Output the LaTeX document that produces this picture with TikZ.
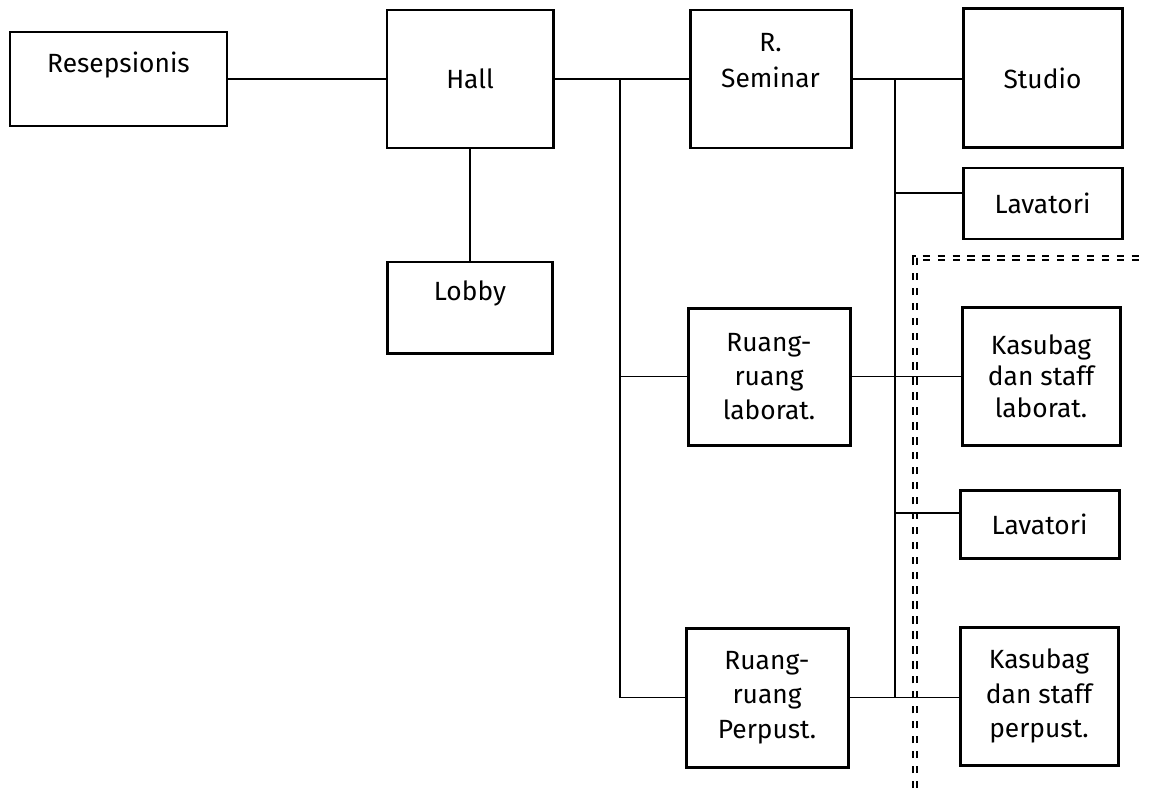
\documentclass[tikz,border=0pt]{standalone}
\usepackage{fontspec}
\setmainfont{Fira Sans}
\newlength\pxu
\setlength\pxu{0.02cm}
\begin{document}
\begin{tikzpicture}[x=0.02cm,y=-0.02cm,
  font=\fontsize{15}{19.5}\selectfont,
  room/.style n args={2}{draw=black, line width=1.7pt, inner sep=0pt, align=center,
    minimum width=#1\pxu, minimum height=#2\pxu},
  link/.style={draw=black, line width=1.1pt},
  sep/.style={draw=black, double, double distance=1.1pt, line width=1.4pt,
    dash pattern=on 4.2pt off 4.3pt},
  txt/.style={align=center}]
\useasboundingbox (0,0) rectangle (1152,788);

% rooms
\node[room={217}{94}] (res) at (118.5,79) {};
\node[txt] (res-t) at ([yshift=8pt]res.center) {Resepsionis};
\node[room={166}{138}] (hall) at (470,79) {Hall};
\node[room={165}{91}] (lobby) at (470,307.5) {};
\node[txt] (lobby-t) at ([yshift=8pt]lobby.center) {Lobby};
\node[room={161}{138}] (sem) at (770.5,79) {};
\node[txt, font=\fontsize{15}{21}\selectfont] (sem-t) at ([yshift=10.5pt]sem.center) {R.\\Seminar};
\node[room={159}{139}] (studio) at (1042.5,78) {Studio};
\node[room={159}{71}] (lav1) at (1042.5,203.5) {Lavatori};
\node[room={162}{137}] (lab) at (769,376.5) {Ruang-\\ruang\\laborat.};
\node[room={158}{138}, font=\fontsize{15}{18}\selectfont] (kaslab) at (1041,376) {Kasubag\\dan staff\\laborat.};
\node[room={159}{68}] (lav2) at (1039.5,524) {Lavatori};
\node[room={162}{139}] (perp) at (767,697.5) {Ruang-\\ruang\\Perpust.};
\node[room={158}{138}] (kasperp) at (1039,696) {Kasubag\\dan staff\\perpust.};

% junctions
\coordinate (j1) at (620,79);
\coordinate (j2) at (895,79);
\coordinate (k1) at (895,193);
\coordinate (k2) at (895,513);
\coordinate (d1) at (915,788);
\coordinate (d2) at (915,258);
\coordinate (d3) at (1145,258);

% separation line
\draw[sep] (d1) -- (d2) -- (d3);

% connectors
\draw[link] (res) -- (hall);
\draw[link] (hall) -- (lobby);
\draw[link] (hall) -- (sem);
\draw[link] (j1) |- (perp.west);
\draw[link] (j1 |- lab.west) -- (lab.west);
\draw[link] (sem.east) -- (sem.east -| studio.west);
\draw[link] (j2) -- (j2 |- perp.east);
\draw[link] (k1) -- (k1 -| lav1.west);
\draw[link] (lab.east) -- (lab.east -| kaslab.west);
\draw[link] (k2) -- (k2 -| lav2.west);
\draw[link] (perp.east) -- (perp.east -| kasperp.west);
\end{tikzpicture}
\end{document}
